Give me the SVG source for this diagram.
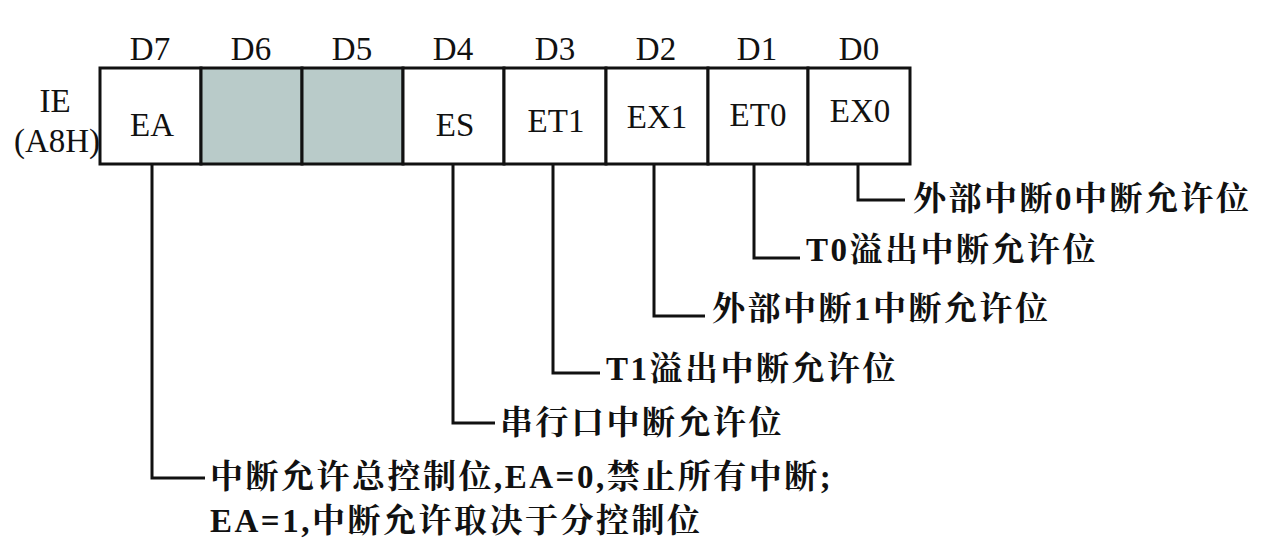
<svg xmlns="http://www.w3.org/2000/svg" width="1282" height="550" viewBox="0 0 1282 550">
<style>
.c{font-family:"Liberation Serif","Noto Sans CJK SC",serif;font-size:33px;fill:#111;text-anchor:middle}
.z{font-family:"Liberation Serif","Noto Serif CJK SC","Noto Sans CJK SC",serif;font-size:33px;letter-spacing:2.5px;fill:#111;font-weight:bold}
.cell{fill:#fff;stroke:#111;stroke-width:3}
.g{fill:#b9cbc9;stroke:#111;stroke-width:3}
.l{fill:none;stroke:#111;stroke-width:3}
</style>
<rect width="1282" height="550" fill="#fff"/>
<g id="labels">
<text class="c" x="150" y="60">D7</text><text class="c" x="251" y="60">D6</text><text class="c" x="352" y="60">D5</text><text class="c" x="453" y="60">D4</text>
<text class="c" x="555" y="60">D3</text><text class="c" x="656" y="60">D2</text><text class="c" x="757" y="60">D1</text><text class="c" x="859" y="60">D0</text>
<text class="c" x="55" y="112">IE</text><text class="c" x="57" y="152">(A8H)</text>
</g>
<g id="register">
<rect class="cell" x="100" y="68" width="101" height="96"/>
<rect class="g" x="201" y="68" width="101" height="96"/>
<rect class="g" x="302" y="68" width="101" height="96"/>
<rect class="cell" x="403" y="68" width="101" height="96"/>
<rect class="cell" x="504" y="68" width="102" height="96"/>
<rect class="cell" x="606" y="68" width="102" height="96"/>
<rect class="cell" x="708" y="68" width="100" height="96"/>
<rect class="cell" x="808" y="68" width="102" height="96"/>
<text class="c" x="152" y="136">EA</text><text class="c" x="455" y="136">ES</text><text class="c" x="556" y="132">ET1</text>
<text class="c" x="657" y="128">EX1</text><text class="c" x="758" y="126">ET0</text><text class="c" x="860" y="122">EX0</text>
</g>
<g id="connectors">
<polyline class="l" points="152,164 152,478 205,478"/>
<polyline class="l" points="453,164 453,423 495,423"/>
<polyline class="l" points="553,164 553,373 600,373"/>
<polyline class="l" points="654,164 654,316 705,316"/>
<polyline class="l" points="754,164 754,258 800,258"/>
<polyline class="l" points="858,164 858,200 905,200"/>
</g>
<g id="desc">
<text class="z" x="913" y="210">外部中断0中断允许位</text>
<text class="z" x="806" y="261">T0溢出中断允许位</text>
<text class="z" x="712" y="320">外部中断1中断允许位</text>
<text class="z" x="606" y="380">T1溢出中断允许位</text>
<text class="z" x="500" y="434">串行口中断允许位</text>
<text class="z" x="210" y="488">中断允许总控制位,EA=0,禁止所有中断;</text>
<text class="z" x="210" y="532">EA=1,中断允许取决于分控制位</text>
</g>
</svg>
